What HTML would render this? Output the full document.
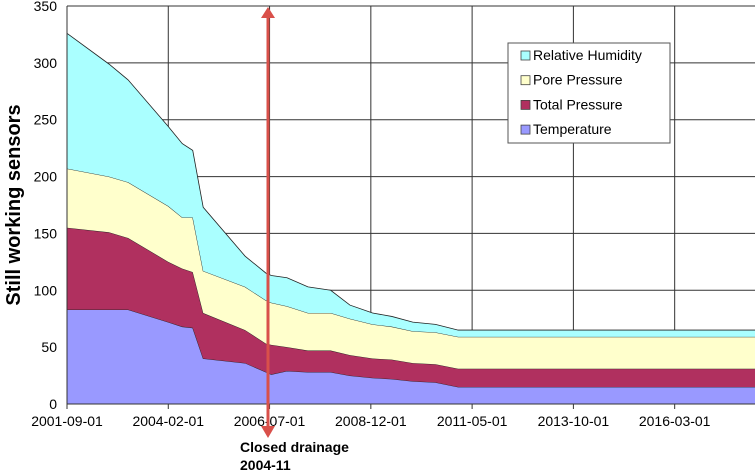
<!DOCTYPE html>
<html><head><meta charset="utf-8"><style>
body{margin:0;background:#fff;}
svg{display:block;font-family:"Liberation Sans",Arial,sans-serif;}
</style></head><body>
<svg id="chart" width="755" height="472">
<g id="grid"></g>
<g id="areas"></g>
<g id="axes"></g>
<text transform="translate(20,205) rotate(-90)" text-anchor="middle" font-size="20" font-weight="bold">Still working sensors</text>
<g>
<rect x="508" y="43" width="162" height="100" fill="#fff" stroke="#555" stroke-width="1"/>
<g id="legend-items"></g>
</g>
<g>
<line x1="268" y1="14" x2="268" y2="430" stroke="#d9504a" stroke-width="3"/>
<polygon points="261,18 268,7 275,18" fill="#d9504a"/>
<polygon points="261,426 268,438 275,426" fill="#d9504a"/>
<text x="240" y="452" font-size="14" font-weight="bold">Closed drainage</text>
<text x="240" y="470" font-size="14" font-weight="bold">2004-11</text>
</g>
</svg>
<script>
const months=[0,12,17.5,29,33,36,39,51,57,58.5,63,69,75.5,81,87.5,93,99,105.5,112,197];
const temperature=[83,83,83,72,68,67,40,36,28,26,29,28,28,25,23,22,20,19,15,15];
const totalPressure=[72,68,63,53,51,49,40,29,25,26,21,19,19,18,17,17,16,16,16,16];
const porePressure=[52,49,49,49,45,48,37,38,38,37,36,33,33,32,30,29,28,28,28,28];
const relHumidity=[119,99,90,70,65,59,56,27,24,24,25,23,20,12,10,9,8,7,6,6];
const xTickLabels=["2001-09-01","2004-02-01","2006-07-01","2008-12-01","2011-05-01","2013-10-01","2016-03-01"];
const xTickMonths=[0,29,58,87,116,145,174];
const yTicks=[0,50,100,150,200,250,300,350];
const seriesNames=["Temperature","Total Pressure","Pore Pressure","Relative Humidity"];
const colors=["#9999ff","#b0305f","#ffffcc","#aaffff"];
const NS="http://www.w3.org/2000/svg";
const X0=67,X1=755,Y0=404,Y1=6,MAXM=197;
const xs=m=>X0+m*(X1-X0)/MAXM;
const ys=v=>Y0-v*(Y0-Y1)/350;
function mk(t,a,p){const e=document.createElementNS(NS,t);for(const k in a)e.setAttribute(k,a[k]);p.appendChild(e);return e;}
const grid=document.getElementById('grid'),axes=document.getElementById('axes'),areas=document.getElementById('areas');
yTicks.forEach(v=>{
 const l=mk('line',{x1:X0,x2:X1,y1:ys(v),y2:ys(v),stroke:'#333','stroke-width':1},grid);
 
 
 const t=mk('text',{x:X0-10,y:ys(v)+5,'text-anchor':'end','font-size':14},axes);
 t.textContent=v;
 
 
});
xTickMonths.forEach((m,i)=>{
 const l=mk('line',{x1:xs(m),x2:xs(m),y1:Y1,y2:Y0+5,stroke:'#333','stroke-width':1},grid);
 
 
 const t=mk('text',{x:xs(m),y:Y0+22,'text-anchor':'middle','font-size':14},axes);
 t.textContent=xTickLabels[i];
 
 
});
const series=[temperature,totalPressure,porePressure,relHumidity];
let base=months.map(()=>0);
series.forEach((s,si)=>{
 const top=base.map((b,i)=>b+s[i]);
 let d='M'+months.map((m,i)=>xs(m)+','+ys(top[i])).join(' L');
 for(let i=months.length-1;i>=0;i--)d+=' L'+xs(months[i])+','+ys(base[i]);
 d+='Z';
 const p=mk('path',{d:d,fill:colors[si],stroke:'none'},areas);
 
 
 const ln=mk('polyline',{points:months.map((m,i)=>xs(m)+','+ys(top[i])).join(' '),fill:'none',stroke:'#222','stroke-width':0.8},areas);
 
 
 base=top;
});
mk('line',{x1:X0,x2:X0,y1:Y1,y2:Y0,stroke:'#333'},axes);
mk('line',{x1:X0,x2:X1,y1:Y0,y2:Y0,stroke:'#333'},axes);
const li=document.getElementById('legend-items');
[3,2,1,0].forEach((si,k)=>{
 const y=55+k*24.7;
 const r=mk('rect',{x:521,y:y-4,width:9,height:9,fill:colors[si],stroke:'#444','stroke-width':0.8},li);
 
 
 const t=mk('text',{x:533,y:y+5,'font-size':14},li);
 t.textContent=seriesNames[si];
 
 
});
</script>
</body></html>
